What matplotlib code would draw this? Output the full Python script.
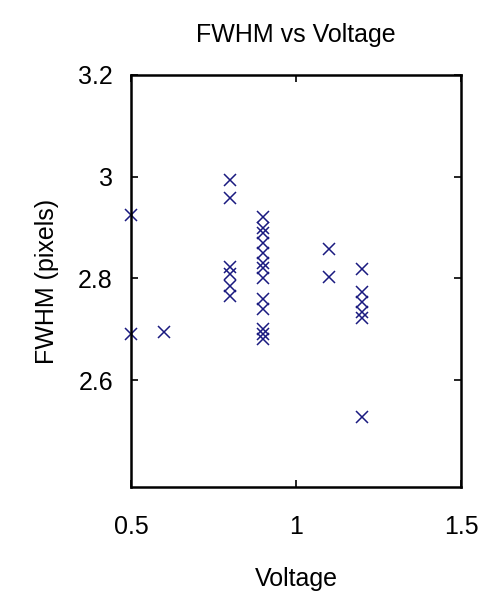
import matplotlib
matplotlib.use('Agg')
from matplotlib import pyplot as plt

# voltage (V) and measured FWHM (pixels)
voltage = [0.5, 0.5,
           0.6,
           0.8, 0.8, 0.8, 0.8, 0.8, 0.8,
           0.9, 0.9, 0.9, 0.9, 0.9, 0.9, 0.9, 0.9, 0.9, 0.9, 0.9, 0.9, 0.9,
           1.1, 1.1,
           1.2, 1.2, 1.2, 1.2, 1.2, 1.2]
fwhm = [2.925, 2.690,
        2.695,
        2.994, 2.959, 2.822, 2.808, 2.785, 2.765,
        2.92, 2.90, 2.89, 2.87, 2.85, 2.83, 2.82, 2.80, 2.76, 2.74, 2.70, 2.69, 2.68,
        2.857, 2.802,
        2.818, 2.773, 2.753, 2.735, 2.723, 2.527]
xticks = [0.5, 1, 1.5]
xticklabels = ['0.5', '1', '1.5']
yticks = [2.6, 2.8, 3.0, 3.2]
yticklabels = ['2.6', '2.8', '3', '3.2']

plt.rcParams['font.family'] = ['Liberation Sans', 'DejaVu Sans']

fig = plt.figure(figsize=(4.87, 5.94), dpi=100)
ax = fig.add_axes([131/487, 1 - 487/594, 330/487, 412/594])
ax.plot(voltage, fwhm, 'x', color='#1a1a80', markersize=8.5, markeredgewidth=1.1,
        clip_on=False)

ax.set_xlim(0.5, 1.5)
ax.set_ylim(2.39, 3.2)
ax.set_xticks(xticks)
ax.set_xticklabels(xticklabels)
ax.set_yticks(yticks)
ax.set_yticklabels(yticklabels)
ax.tick_params(direction='in', length=5, width=1.2, labelsize=18,
               top=True, right=True)
ax.tick_params(axis='x', pad=20)
ax.tick_params(axis='y', pad=13)
for s in ax.spines.values():
    s.set_linewidth(1.8)

ax.set_title('FWHM vs Voltage', fontsize=18, pad=24)
ax.set_xlabel('Voltage', fontsize=18, labelpad=20)
ax.set_ylabel('FWHM (pixels)', fontsize=18, labelpad=14)

fig.savefig('out.png', dpi=100)
